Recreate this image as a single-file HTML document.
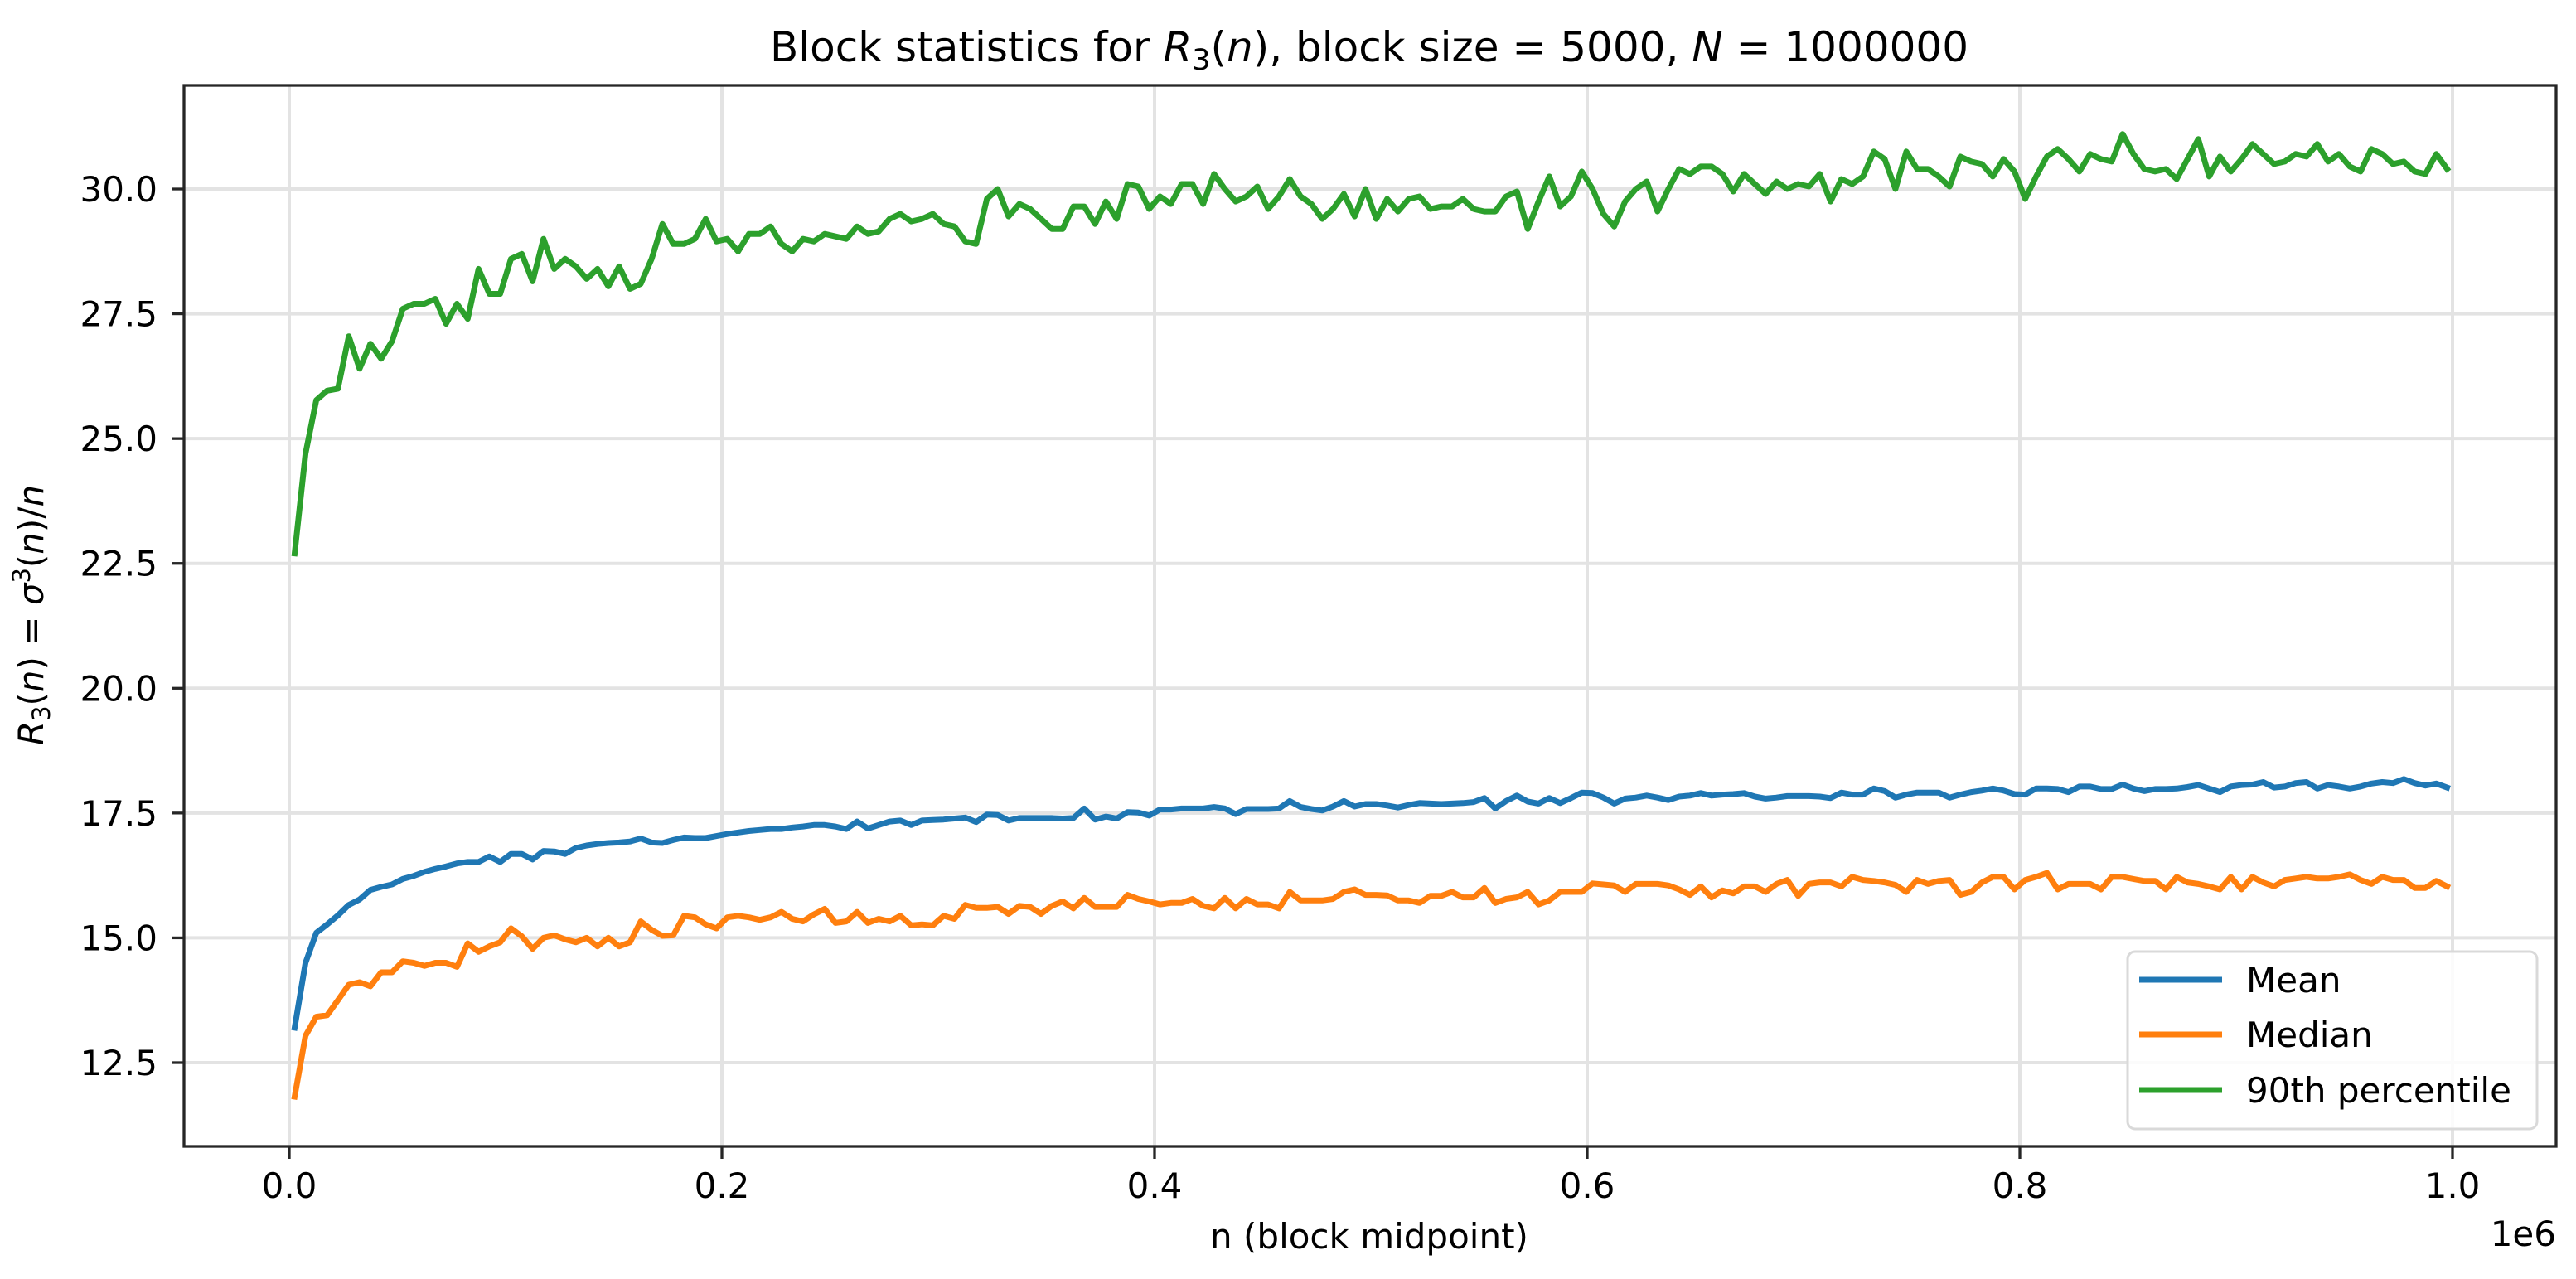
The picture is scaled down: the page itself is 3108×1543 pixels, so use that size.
<!DOCTYPE html>
<html><head><meta charset="utf-8"><title>Block statistics</title>
<style>
html,body{margin:0;padding:0;background:#fff;}
svg{display:block;font-family:"DejaVu Sans","Liberation Sans",sans-serif;}
</style></head>
<body>
<svg id="chart" width="3108" height="1543" viewBox="0 0 3108 1543" xmlns="http://www.w3.org/2000/svg">
  <rect width="3108" height="1543" fill="#fff"/>
  <g id="grid"></g>
  <g id="series"></g>
  <rect x="222" y="103" width="2862" height="1280" fill="none" stroke="#262626" stroke-width="3.3"/>
  <g id="ticks"></g>
  <text x="1652" y="74" text-anchor="middle" font-size="50" fill="#000">Block statistics for <tspan font-style="italic">R</tspan><tspan font-size="35" dy="10">3</tspan><tspan dy="-10">(</tspan><tspan font-style="italic">n</tspan>), block size = 5000, <tspan font-style="italic">N</tspan> = 1000000</text>
  <text x="1652" y="1506" text-anchor="middle" font-size="42" fill="#000">n (block midpoint)</text>
  <text x="3084" y="1503" text-anchor="end" font-size="42" fill="#000">1e6</text>
  <text transform="translate(52,742) rotate(-90)" text-anchor="middle" font-size="42" fill="#000"><tspan font-style="italic">R</tspan><tspan font-size="29" dy="8">3</tspan><tspan dy="-8">(</tspan><tspan font-style="italic">n</tspan>) = <tspan font-style="italic">σ</tspan><tspan font-size="29" dy="-16">3</tspan><tspan dy="16">(</tspan><tspan font-style="italic">n</tspan>)/<tspan font-style="italic">n</tspan></text>
  <g id="legend">
    <rect x="2567" y="1148" width="494" height="214" rx="9" fill="#fff" fill-opacity="0.85" stroke="#d9d9d9" stroke-width="3"/>
    <g>
      <line x1="2581" y1="1182" x2="2681" y2="1182" stroke="#1f77b4" stroke-width="7"/>
      <text x="2710" y="1197" font-size="42">Mean</text>
    </g>
    <g>
      <line x1="2581" y1="1248" x2="2681" y2="1248" stroke="#ff7f0e" stroke-width="7"/>
      <text x="2710" y="1263" font-size="42">Median</text>
    </g>
    <g>
      <line x1="2581" y1="1315" x2="2681" y2="1315" stroke="#2ca02c" stroke-width="7"/>
      <text x="2710" y="1330" font-size="42">90th percentile</text>
    </g>
  </g>
</svg>
<script>
const blockSize = 5000;
const xTicks = [0, 200000, 400000, 600000, 800000, 1000000];
const xTickLabels = ["0.0", "0.2", "0.4", "0.6", "0.8", "1.0"];
const yTicks = [12.5, 15.0, 17.5, 20.0, 22.5, 25.0, 27.5, 30.0];
const yTickLabels = ["12.5", "15.0", "17.5", "20.0", "22.5", "25.0", "27.5", "30.0"];
const meanValues = [13.2,14.5,15.1,15.27,15.45,15.66,15.77,15.96,16.02,16.07,
16.18,16.24,16.32,16.38,16.43,16.49,16.52,16.52,16.63,16.52,
16.68,16.68,16.57,16.74,16.73,16.68,16.8,16.85,16.88,16.9,
16.91,16.93,16.99,16.91,16.9,16.96,17.01,17.0,17.0,17.04,
17.08,17.11,17.14,17.16,17.18,17.18,17.21,17.23,17.26,17.26,
17.23,17.18,17.33,17.19,17.26,17.33,17.35,17.26,17.35,17.36,
17.37,17.39,17.41,17.32,17.47,17.46,17.35,17.4,17.4,17.4,
17.4,17.39,17.4,17.59,17.37,17.43,17.39,17.52,17.51,17.45,
17.57,17.57,17.59,17.59,17.59,17.62,17.59,17.48,17.58,17.58,
17.58,17.59,17.74,17.62,17.58,17.55,17.63,17.74,17.63,17.68,
17.68,17.65,17.61,17.66,17.7,17.69,17.68,17.69,17.7,17.72,
17.8,17.59,17.74,17.85,17.73,17.69,17.8,17.7,17.8,17.91,
17.9,17.81,17.69,17.79,17.81,17.85,17.81,17.76,17.83,17.85,
17.9,17.85,17.87,17.88,17.9,17.83,17.79,17.81,17.84,17.84,
17.84,17.83,17.8,17.91,17.87,17.87,17.99,17.94,17.81,17.87,
17.91,17.91,17.91,17.81,17.87,17.92,17.95,17.99,17.95,17.88,
17.87,17.99,17.99,17.98,17.92,18.03,18.03,17.98,17.98,18.07,
17.99,17.94,17.98,17.98,17.99,18.02,18.06,17.99,17.92,18.03,
18.06,18.07,18.12,18.01,18.03,18.1,18.12,17.99,18.06,18.03,
17.99,18.03,18.09,18.12,18.1,18.18,18.1,18.05,18.09,18.01];
const medianValues = [11.82,13.04,13.42,13.45,13.75,14.06,14.11,14.03,14.31,14.31,
14.53,14.5,14.44,14.5,14.5,14.42,14.89,14.72,14.83,14.91,
15.19,15.03,14.78,15.0,15.05,14.97,14.91,15.0,14.83,15.0,
14.83,14.91,15.33,15.16,15.04,15.05,15.44,15.41,15.27,15.19,
15.41,15.44,15.41,15.36,15.41,15.52,15.38,15.33,15.47,15.58,
15.3,15.33,15.52,15.3,15.38,15.33,15.44,15.25,15.27,15.25,
15.44,15.38,15.66,15.6,15.6,15.62,15.48,15.64,15.62,15.48,
15.64,15.73,15.59,15.8,15.62,15.62,15.62,15.86,15.78,15.73,
15.67,15.7,15.7,15.78,15.64,15.59,15.8,15.59,15.78,15.67,
15.67,15.59,15.92,15.75,15.75,15.75,15.78,15.92,15.97,15.86,
15.86,15.85,15.75,15.75,15.7,15.84,15.84,15.92,15.81,15.81,
16.0,15.7,15.78,15.81,15.92,15.67,15.75,15.92,15.92,15.92,
16.09,16.07,16.05,15.92,16.08,16.08,16.08,16.05,15.97,15.86,
16.03,15.81,15.95,15.89,16.03,16.03,15.92,16.08,16.16,15.84,
16.08,16.11,16.11,16.03,16.22,16.16,16.14,16.11,16.06,15.92,
16.16,16.08,16.14,16.16,15.86,15.92,16.11,16.22,16.22,15.97,
16.16,16.22,16.3,15.97,16.08,16.08,16.08,15.97,16.22,16.22,
16.18,16.14,16.14,15.97,16.22,16.11,16.08,16.03,15.97,16.22,
15.97,16.22,16.11,16.03,16.16,16.19,16.22,16.19,16.19,16.22,
16.27,16.16,16.08,16.22,16.16,16.16,16.0,16.0,16.14,16.03];
const p90Values = [22.7,24.7,25.77,25.96,26.0,27.05,26.4,26.9,26.6,26.95,
27.6,27.7,27.7,27.8,27.3,27.7,27.4,28.4,27.9,27.9,
28.6,28.7,28.15,29.0,28.4,28.6,28.45,28.2,28.4,28.05,
28.45,28.0,28.1,28.6,29.3,28.9,28.9,29.0,29.4,28.95,
29.0,28.75,29.1,29.1,29.25,28.9,28.75,29.0,28.95,29.1,
29.05,29.0,29.25,29.1,29.15,29.4,29.5,29.35,29.4,29.5,
29.3,29.25,28.95,28.9,29.8,30.0,29.45,29.7,29.6,29.4,
29.2,29.2,29.65,29.65,29.3,29.75,29.4,30.1,30.05,29.6,
29.85,29.7,30.1,30.1,29.7,30.3,30.0,29.75,29.85,30.05,
29.6,29.85,30.2,29.85,29.7,29.4,29.6,29.9,29.45,30.0,
29.4,29.8,29.55,29.8,29.85,29.6,29.65,29.65,29.8,29.6,
29.55,29.55,29.85,29.95,29.2,29.75,30.25,29.65,29.85,30.35,
30.0,29.5,29.25,29.75,30.0,30.15,29.55,30.0,30.4,30.3,
30.45,30.45,30.3,29.95,30.3,30.1,29.9,30.15,30.0,30.1,
30.05,30.3,29.75,30.2,30.1,30.25,30.75,30.6,30.0,30.75,
30.4,30.4,30.25,30.05,30.65,30.55,30.5,30.25,30.6,30.35,
29.8,30.25,30.65,30.8,30.6,30.35,30.7,30.6,30.55,31.1,
30.7,30.4,30.35,30.4,30.2,30.6,31.0,30.25,30.65,30.35,
30.6,30.9,30.7,30.5,30.55,30.7,30.65,30.9,30.55,30.7,
30.45,30.35,30.8,30.7,30.5,30.55,30.35,30.3,30.7,30.4];

const NS = "http://www.w3.org/2000/svg";
function xScale(v){ return 349 + v / 1000000 * 2610; }
function yScale(v){ return 228 + (30 - v) * (1054 / 17.5); }
function mk(tag, attrs, parent){
  const el = document.createElementNS(NS, tag);
  for (const k in attrs) el.setAttribute(k, attrs[k]);
  parent.appendChild(el);
  return el;
}
const grid = document.getElementById('grid');
const ticks = document.getElementById('ticks');
const series = document.getElementById('series');

xTicks.forEach((t, i) => {
  const x = xScale(t);
  const g = mk('line', {x1:x, y1:103, x2:x, y2:1383, stroke:'#e3e3e3', 'stroke-width':4}, grid);
  
  
  const tk = mk('line', {x1:x, y1:1383, x2:x, y2:1398, stroke:'#262626', 'stroke-width':3.3}, ticks);
  
  
  const lb = mk('text', {x:x, y:1445, 'text-anchor':'middle', 'font-size':42, fill:'#000'}, ticks);
  lb.textContent = xTickLabels[i];
  
  
});
yTicks.forEach((t, i) => {
  const y = yScale(t);
  const g = mk('line', {x1:222, y1:y, x2:3084, y2:y, stroke:'#e3e3e3', 'stroke-width':4}, grid);
  
  
  const tk = mk('line', {x1:207, y1:y, x2:222, y2:y, stroke:'#262626', 'stroke-width':3.3}, ticks);
  
  
  const lb = mk('text', {x:190, y:y + 15, 'text-anchor':'end', 'font-size':42, fill:'#000'}, ticks);
  lb.textContent = yTickLabels[i];
  
  
});

function drawLine(vals, color, name){
  const pts = vals.map((v, i) => xScale(i * blockSize + blockSize / 2).toFixed(1) + ',' + yScale(v).toFixed(1)).join(' ');
  const pl = mk('polyline', {points:pts, fill:'none', stroke:color, 'stroke-width':7, 'stroke-linejoin':'round', 'stroke-linecap':'square'}, series);
  
  
}
drawLine(meanValues, '#1f77b4', 'mean-line');
drawLine(medianValues, '#ff7f0e', 'median-line');
drawLine(p90Values, '#2ca02c', 'p90-line');
</script>
</body></html>
